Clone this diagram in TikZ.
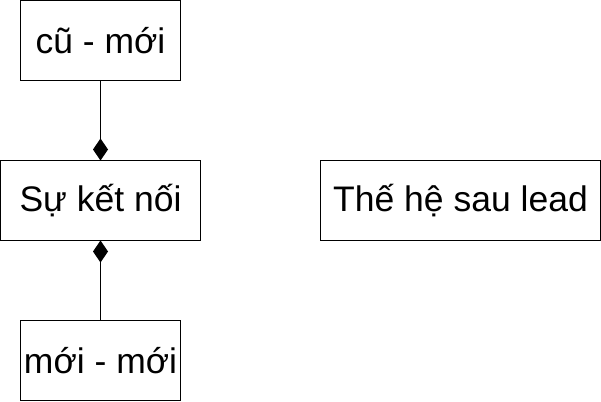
\documentclass[tikz,border=0pt]{standalone}
\usepackage{fontspec}
\setmainfont{Liberation Sans}
\usetikzlibrary{positioning,arrows.meta}
\tikzset{
	block/.style={draw, line width=1pt, outer sep=0pt, inner sep=0pt,
		minimum height=80pt, font=\fontsize{35.5}{38}\selectfont},
	smallblock/.style={block, minimum width=160pt},
	partof/.style={line width=1pt, -{Diamond[length=22pt,width=15pt]}}
}

\begin{document}
\begin{tikzpicture}
				
				\useasboundingbox (0,0) rectangle (601pt,-401pt);
				
				\node[smallblock] (old) at (100.5pt,-40.5pt) {cũ - mới};
				\node[block, minimum width=200pt, below=80pt of old] (link) {Sự kết nối};
				\node[smallblock, below=80pt of link] (new) {mới - mới};
				\node[block, minimum width=280pt, right=120pt of link] (next) {Thế hệ sau lead};
				
				% quan he
				\draw[partof] (old) -- (link);
				\draw[partof] (new) -- (link);
								
\end{tikzpicture}
\end{document}
